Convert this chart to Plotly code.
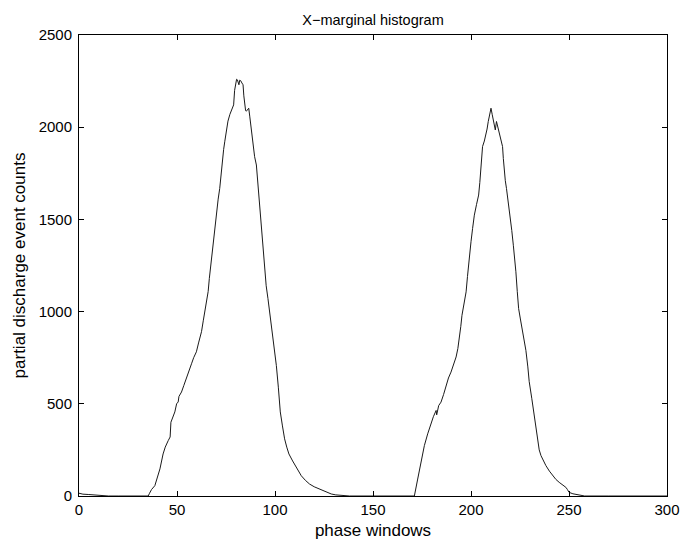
import plotly.graph_objects as go

# Phase window positions (x) and partial discharge event counts (y)
phase = [0, 2, 5, 8, 12, 15, 20, 30, 35.3, 36, 37, 38.7, 40, 41.3, 42.9, 44, 45.5, 46.5, 46.9,
         48, 48.9, 49.8, 50.6, 51, 52.3, 53.5, 54.8, 56, 57.4, 58.5, 59.9, 61, 62.5, 63.4, 64.2,
         65, 65.9, 66.5, 67.2, 67.8, 68.4, 69.2, 70.1, 71, 71.8, 72.5, 73.2, 73.8, 74.4, 75.2,
         76.0, 77, 77.8, 78.9, 79.4, 79.9, 80.4, 80.8, 81.2, 81.6, 82.0, 82.5, 83.1, 83.7, 84.1,
         84.5, 85.0, 85.4, 86.0, 86.6, 87.1, 87.6, 88.2, 88.8, 89.6, 90.5, 91.2, 91.8, 92.4, 93.0,
         93.8, 94.7, 95.5, 96.4, 97.5, 98.7, 99.7, 100.7, 101.7, 102.7, 103.8, 104.9, 106, 107.1,
         109, 110.9, 113.4, 115.5, 117.6, 120, 122.7, 126, 128.7, 131, 134.5, 138, 150, 165, 171.1,
         172.8, 174.5, 176.2, 177.9, 179.6, 180.8, 182.2, 182.5, 183.5, 184.7, 186, 187.3, 188.5,
         189.8, 191, 192.4, 193.3, 194.1, 194.8, 195.4, 196.5, 197.5, 198.2, 198.8, 199.4, 200.0,
         200.8, 201.7, 202.8, 203.9, 204.5, 205.1, 205.5, 205.9, 206.8, 207.6, 208.2, 208.8, 209.5,
         210.2, 210.8, 211.4, 211.9, 212.4, 213.0, 213.7, 214.4, 215.2, 216.1, 216.5, 217.0, 217.5,
         218.1, 219, 219.9, 220.8, 221.6, 222.3, 222.9, 223.6, 224.3, 225.2, 226.0, 227.1, 228.0,
         229, 229.7, 231, 232.2, 233, 233.9, 234.8, 235.7, 237, 238.2, 240, 241.6, 243.3, 245,
         246.7, 248.4, 249.2, 250, 252, 255.2, 258, 270, 300]
counts = [15, 10, 8, 5, 3, 0, 0, 0, 0, 15, 35, 56, 100, 147, 228, 265, 300, 320, 400,
          430, 456, 500, 510, 540, 564, 600, 636, 680, 717, 750, 782, 830, 891, 950, 1000,
          1050, 1109, 1180, 1252, 1320, 1380, 1460, 1543, 1610, 1668, 1750, 1832, 1880, 1924, 1980,
          2033, 2070, 2094, 2121, 2200, 2248, 2260, 2257, 2240, 2230, 2255, 2252, 2240, 2230, 2170,
          2121, 2090, 2087, 2095, 2103, 2060, 2013, 1950, 1886, 1840, 1795, 1700, 1614, 1520, 1435,
          1330, 1217, 1140, 1071, 980, 891, 800, 707, 590, 456, 380, 310, 265, 228,
          190, 156, 110, 85, 65, 50, 38, 22, 11, 6, 2, 0, 0, 0, 0,
          92, 185, 273, 337, 400, 430, 464, 440, 490, 509, 550, 600, 640,
          672, 710, 754, 800, 853, 920, 980, 1050, 1107, 1190, 1270, 1330, 1379,
          1450, 1523, 1580, 1632, 1700, 1777, 1840, 1895, 1925, 1958, 1990, 2031, 2070,
          2103, 2070, 2040, 2010, 1985, 2031, 2000, 1958, 1930, 1895, 1830, 1759, 1710,
          1668, 1600, 1523, 1440, 1360, 1290, 1216, 1110, 1016, 960, 908, 830, 790,
          700, 620, 530, 436, 370, 293, 250, 219, 190, 165, 135, 110, 90, 74,
          60, 47, 35, 20, 12, 7, 0, 0, 0]

x_ticks = [0, 50, 100, 150, 200, 250, 300]
y_ticks = [0, 500, 1000, 1500, 2000, 2500]

FONT = "Liberation Sans, Arial, Helvetica, sans-serif"

W, H = 687, 535  # page body has an 8px margin

fig = go.Figure()
fig.add_trace(go.Scatter(x=phase, y=counts, mode="lines",
                         line=dict(color="#1a1a1a", width=1), showlegend=False))

fig.update_layout(
    width=W, height=H,
    margin=dict(l=71, r=28, t=27, b=47, autoexpand=False),
    paper_bgcolor="white", plot_bgcolor="white",
    font=dict(family=FONT, size=15, color="black"),
    title=dict(text="X\u2212marginal histogram", x=365 / W, xanchor="center",
               y=1 - 12 / H, yanchor="middle", yref="container",
               font=dict(family=FONT, size=14.5, color="black")),
    xaxis=dict(range=[0, 300], tickvals=x_ticks, ticks="inside", ticklen=5,
               tickcolor="black", showline=True, linecolor="black", linewidth=1,
               mirror="ticks", showgrid=False, zeroline=False, automargin=False,
               tickfont=dict(family=FONT, size=15),
               title=dict(text="phase windows", standoff=7,
                          font=dict(family=FONT, size=17))),
    yaxis=dict(range=[0, 2500], tickvals=y_ticks, ticks="inside", ticklen=5,
               tickcolor="black", showline=True, linecolor="black", linewidth=1,
               mirror="ticks", showgrid=False, zeroline=False, automargin=False,
               tickfont=dict(family=FONT, size=15), ticklabelstandoff=3,
               title=dict(text="partial discharge event counts", standoff=8,
                          font=dict(family=FONT, size=17))),
)

fig.write_html("out.html")
